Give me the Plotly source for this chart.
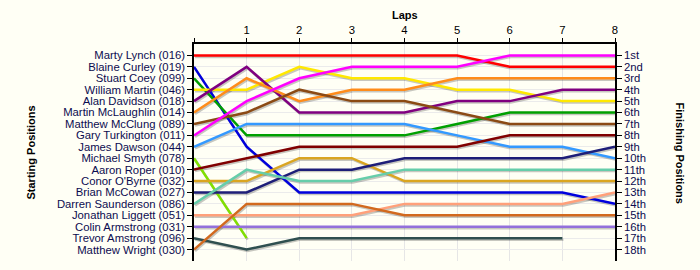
import plotly.graph_objects as go

laps = [0, 1, 2, 3, 4, 5, 6, 7, 8]
lap_labels = ["", "1", "2", "3", "4", "5", "6", "7", "8"]

drivers = [
    "Marty Lynch (016)", "Blaine Curley (019)", "Stuart Coey (099)",
    "William Martin (046)", "Alan Davidson (018)", "Martin McLaughlin (014)",
    "Matthew McClung (089)", "Gary Turkington (011)", "James Dawson (044)",
    "Michael Smyth (078)", "Aaron Roper (010)", "Conor O'Byrne (032)",
    "Brian McCowan (027)", "Darren Saunderson (086)", "Jonathan Liggett (051)",
    "Colin Armstrong (031)", "Trevor Amstrong (096)", "Matthew Wright (030)",
]

positions = [
    [1, 1, 1, 1, 1, 1, 2, 2, 2],
    [2, 9, 13, 13, 13, 13, 13, 13, 14],
    [3, 8, 8, 8, 8, 7, 6, 6, 6],
    [4, 4, 2, 3, 3, 4, 4, 5, 5],
    [5, 2, 6, 6, 6, 5, 5, 4, 4],
    [6, 3, 5, 4, 4, 3, 3, 3, 3],
    [7, 6, 4, 5, 5, 6, 7, 7, 7],
    [8, 5, 3, 2, 2, 2, 1, 1, 1],
    [9, 7, 7, 7, 7, 8, 9, 9, 10],
    [10, 17, None, None, None, None, None, None, None],
    [11, 10, 9, 9, 9, 9, 8, 8, 8],
    [12, 12, 10, 10, 12, 12, 12, 12, 12],
    [13, 13, 11, 11, 10, 10, 10, 10, 9],
    [14, 11, 12, 12, 11, 11, 11, 11, 11],
    [15, 15, 15, 15, 14, 14, 14, 14, 13],
    [16, 16, 16, 16, 16, 16, 16, 16, 16],
    [17, 18, 17, 17, 17, 17, 17, 17, None],
    [18, 14, 14, 14, 15, 15, 15, 15, 15],
]

finish_labels = ["1st", "2nd", "3rd", "4th", "5th", "6th", "7th", "8th", "9th",
                 "10th", "11th", "12th", "13th", "14th", "15th", "16th", "17th", "18th"]
start_positions = list(range(1, 19))

colors = [
    "#FF0000", "#0000DD", "#00A000", "#FFE800", "#800080", "#FF8C1A",
    "#8B4A14", "#FF00FF", "#3399FF", "#80E000", "#800000", "#DAA520",
    "#1E1E78", "#66CDAA", "#FFA07A", "#9370DB", "#2F4F4F", "#D2691E",
]

BG = "#FFFFF5"
TXT = "#0C0C50"
FONT = "Liberation Sans, Arial, sans-serif"

fig = go.Figure()

# drop shadows
for pos in positions:
    fig.add_trace(go.Scatter(
        x=[l + 0.02 for l in laps],
        y=[None if p is None else p + 0.13 for p in pos],
        mode="lines", line=dict(color="rgba(0,0,0,0.22)", width=2.5),
        hoverinfo="skip", showlegend=False, connectgaps=False))

for name, pos, col in zip(drivers, positions, colors):
    fig.add_trace(go.Scatter(
        x=laps, y=pos, mode="lines", name=name,
        line=dict(color=col, width=2.5), showlegend=False, connectgaps=False))

# invisible trace to anchor the right axis
fig.add_trace(go.Scatter(x=[0], y=[1], yaxis="y2", mode="markers",
                         marker=dict(opacity=0), hoverinfo="skip", showlegend=False))

fig.update_layout(
    width=700, height=270,
    margin=dict(l=194, r=85, t=44, b=9),
    paper_bgcolor=BG, plot_bgcolor=BG,
    font=dict(family=FONT, size=11.3, color=TXT),
    xaxis=dict(
        side="top", range=[0, 8], tickvals=laps, ticktext=lap_labels,
        showgrid=True, gridcolor="#E6E6E6", gridwidth=1,
        showline=True, linecolor="black", linewidth=1.5,
        ticks="outside", ticklen=4, tickcolor="black",
        tickfont=dict(family=FONT, size=11.3, color="black"),
        zeroline=False, fixedrange=True,
    ),
    yaxis=dict(
        range=[19, 0], tickvals=start_positions, ticktext=drivers,
        showgrid=True, gridcolor="#EBEBEB", gridwidth=1,
        showline=True, linecolor="black", linewidth=1.5,
        ticks="outside", ticklen=5, tickcolor="black",
        tickfont=dict(family=FONT, size=11.3, color=TXT),
        zeroline=False,
    ),
    yaxis2=dict(
        overlaying="y", side="right", range=[19, 0],
        tickvals=start_positions, ticktext=finish_labels,
        showgrid=False, showline=True, linecolor="black", linewidth=1.5,
        ticks="outside", ticklen=5, tickcolor="black",
        tickfont=dict(family=FONT, size=11.3, color=TXT),
        zeroline=False,
    ),
    annotations=[
        dict(text="<b>Laps</b>", xref="paper", yref="paper", x=0.5, y=1,
             yanchor="middle", yshift=29, showarrow=False,
             font=dict(family=FONT, size=11, color="black")),
        dict(text="<b>Starting Positions</b>", xref="paper", yref="paper",
             x=0, y=0.5, xanchor="center", xshift=-164, textangle=-90, showarrow=False,
             font=dict(family=FONT, size=11, color="black")),
        dict(text="<b>Finishing Positions</b>", xref="paper", yref="paper",
             x=1, y=0.5, xanchor="center", xshift=65, textangle=90, showarrow=False,
             font=dict(family=FONT, size=11, color="black")),
    ],
)

fig.write_html("out.html")
